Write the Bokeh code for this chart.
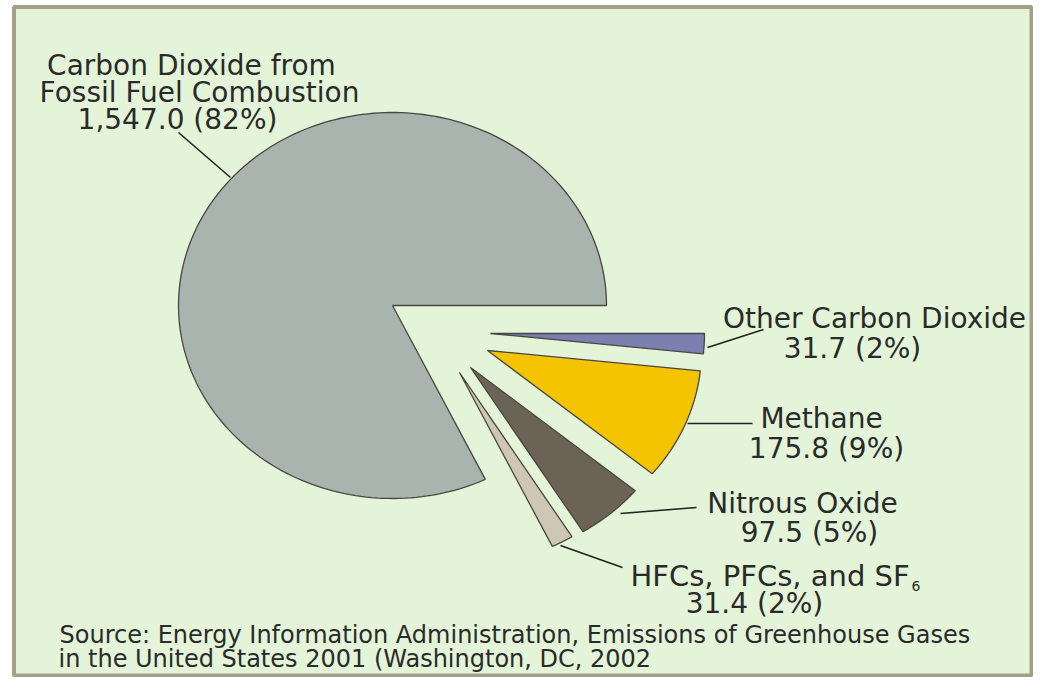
import numpy as np
from bokeh.plotting import figure
from bokeh.models import Range1d, ColumnDataSource
from bokeh.embed import file_html
from bokeh.resources import INLINE
from bokeh.core.properties import value

# ---------------- data ----------------
categories = ["Other Carbon Dioxide", "Methane", "Nitrous Oxide",
              "HFCs, PFCs, and SF6", "Carbon Dioxide from Fossil Fuel Combustion"]
values = [31.7, 175.8, 97.5, 31.4, 1547.0]   # Tg carbon equivalent
label_lines = [["Other Carbon Dioxide"], ["Methane"], ["Nitrous Oxide"],
               ["HFCs, PFCs, and SF"], ["Carbon Dioxide from", "Fossil Fuel Combustion"]]
source_lines = ["Source: Energy Information Administration, Emissions of Greenhouse Gases",
                " in the United States 2001 (Washington, DC, 2002"]

# ---------------- styles ----------------
colors = ["#7b80b0", "#f4c400", "#6b6456", "#cec7b5", "#a9b4af"]
explode = [(98, 28), (95, 45), (78, 62), (67, 67), (0, 0)]   # px offsets
CX, CY, RX, RY = 392, 305, 214, 193
FONT = "DejaVu Sans"
TXT = "#2a2a2a"
BG = "#e3f4d9"

W, H = 1033, 677
p = figure(width=W, height=H, output_backend="svg", toolbar_location=None,
           x_range=Range1d(0, W), y_range=Range1d(H, 0),
           min_border=0, outline_line_color=None)
p.axis.visible = False
p.grid.visible = False
p.background_fill_color = "white"
p.border_fill_color = "white"

# frame box
p.quad(left=[13.5], right=[1031], top=[6.5], bottom=[675],
       fill_color=BG, line_color="#a59f88", line_width=4)

# ---------------- pie ----------------
total = float(sum(values))
fracs = [v / total for v in values]
ends = np.cumsum(fracs) * 2 * np.pi
starts = ends - np.array(fracs) * 2 * np.pi
xs, ys = [], []
for s, e, (dx, dy) in zip(starts, ends, explode):
    t = np.linspace(s, e, 200)
    cx, cy = CX + dx, CY + dy
    xs.append(np.concatenate([[cx], cx + RX * np.cos(t), [cx]]).tolist())
    ys.append(np.concatenate([[cy], cy + RY * np.sin(t), [cy]]).tolist())
src = ColumnDataSource(dict(xs=xs, ys=ys, color=colors, name=categories))
p.patches("xs", "ys", source=src, fill_color="color",
          line_color="#48463e", line_width=1.3)

# ---------------- labels ----------------
num_labels = ["{:,.1f} ({:.0f}%)".format(v, 100 * f) for v, f in zip(values, fracs)]

# name-line positions (center x, baseline y) and value-line position
name_pos = [[(874, 318)], [(821, 418)], [(802, 503)], None, [(191, 65), (199, 92)]]
num_pos = [(852, 348), (826, 448), (809, 532), (754, 603), (177, 119)]

tx, ty, tt = [], [], []
for i in range(len(values)):
    if name_pos[i] is not None:
        for line, (x, y) in zip(label_lines[i], name_pos[i]):
            tx.append(x); ty.append(y); tt.append(line)
    tx.append(num_pos[i][0]); ty.append(num_pos[i][1]); tt.append(num_labels[i])
p.text(x=tx, y=ty, text=tt, text_align="center", text_baseline="alphabetic",
       text_font=value(FONT), text_font_size="28px", text_color=TXT)

# HFC label (left aligned with subscript 6)
p.text(x=[630], y=[575], text=[label_lines[3][0]], text_align="left",
       text_baseline="alphabetic", text_font=value(FONT),
       text_font_size="29px", text_color=TXT)
p.text(x=[911], y=[585], text=["6"], text_align="left",
       text_baseline="alphabetic", text_font=value(FONT),
       text_font_size="14px", text_color=TXT)

# leader lines
lead_x = [[707, 763], [687, 752], [620, 696], [560, 622], [230, 178]]
lead_y = [[347, 329], [423, 423], [513, 507], [545, 567], [177, 132]]
p.multi_line(xs=lead_x, ys=lead_y, line_color="#222222", line_width=1.6)

# source
p.text(x=[59, 58], y=[634, 658], text=source_lines, text_align="left",
       text_baseline="alphabetic", text_font=value(FONT),
       text_font_size="24px", text_color=TXT)

open("out.html", "w").write(file_html(p, INLINE))
